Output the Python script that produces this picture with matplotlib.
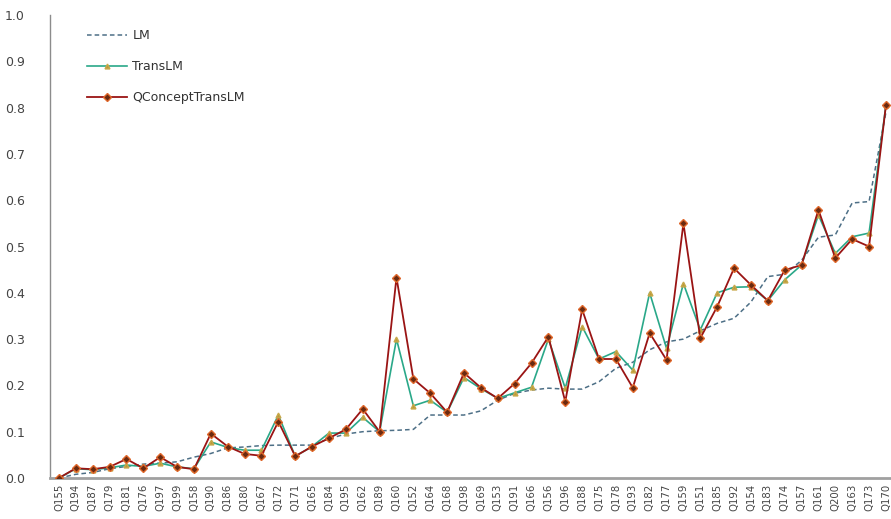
import matplotlib
matplotlib.use("Agg")
import matplotlib.pyplot as plt

queries = ["Q155", "Q194", "Q187", "Q179", "Q181", "Q176", "Q197", "Q199", "Q158", "Q190",
           "Q186", "Q180", "Q167", "Q172", "Q171", "Q165", "Q184", "Q195", "Q162", "Q189",
           "Q160", "Q152", "Q164", "Q168", "Q198", "Q169", "Q153", "Q191", "Q166", "Q156",
           "Q196", "Q188", "Q175", "Q178", "Q193", "Q182", "Q177", "Q159", "Q151", "Q185",
           "Q192", "Q154", "Q183", "Q174", "Q157", "Q161", "Q200", "Q163", "Q173", "Q170"]

lm = [0.000, 0.008, 0.012, 0.020, 0.025, 0.030, 0.032, 0.035, 0.045, 0.053,
      0.065, 0.067, 0.070, 0.071, 0.071, 0.071, 0.085, 0.095, 0.100, 0.102,
      0.103, 0.105, 0.136, 0.136, 0.136, 0.145, 0.168, 0.183, 0.190, 0.194,
      0.192, 0.192, 0.208, 0.237, 0.250, 0.277, 0.294, 0.300, 0.318, 0.334,
      0.345, 0.380, 0.435, 0.440, 0.470, 0.520, 0.525, 0.594, 0.597, 0.790]

trans_lm = [0.000, 0.020, 0.018, 0.022, 0.028, 0.025, 0.032, 0.024, 0.020, 0.078,
            0.066, 0.060, 0.060, 0.136, 0.047, 0.068, 0.097, 0.097, 0.131, 0.100,
            0.300, 0.156, 0.168, 0.142, 0.217, 0.193, 0.172, 0.184, 0.196, 0.300,
            0.194, 0.327, 0.257, 0.273, 0.233, 0.400, 0.280, 0.420, 0.320, 0.400,
            0.412, 0.413, 0.383, 0.428, 0.460, 0.568, 0.485, 0.521, 0.529, 0.805]

qconcept = [0.000, 0.021, 0.019, 0.024, 0.041, 0.021, 0.045, 0.024, 0.019, 0.096,
            0.068, 0.052, 0.048, 0.122, 0.047, 0.068, 0.086, 0.105, 0.149, 0.100,
            0.433, 0.214, 0.183, 0.142, 0.227, 0.195, 0.172, 0.204, 0.248, 0.305,
            0.165, 0.364, 0.257, 0.257, 0.195, 0.313, 0.255, 0.550, 0.302, 0.370,
            0.453, 0.417, 0.383, 0.449, 0.460, 0.579, 0.475, 0.516, 0.500, 0.805]

yticks = [0.0, 0.1, 0.2, 0.3, 0.4, 0.5, 0.6, 0.7, 0.8, 0.9, 1.0]

fig = plt.figure(figsize=(8.91, 5.19), dpi=100)
ax = fig.add_axes([50 / 891, 41 / 519, 1 - 50 / 891, 463 / 519])

x = list(range(len(queries)))

ax.plot(x, lm, color="#4d6f86", lw=1.1, ls=(0, (3, 2)), label="LM", zorder=2)
ax.plot(x, trans_lm, color="#2aa889", lw=1.2, marker="^", ms=3.5,
        mfc="#b99a3a", mec="#c8a84a", label="TransLM", zorder=3)
ax.plot(x, qconcept, color="#9a1414", lw=1.3, marker="D", ms=3.6,
        mfc="#6a2a10", mec="#e0672a", mew=1.0, label="QConceptTransLM", zorder=4)

ax.set_xlim(-0.53, 49.3)
ax.set_ylim(0, 1.0)
ax.set_yticks(yticks)
ax.set_yticklabels([f"{v:.1f}" for v in yticks], fontsize=9, color="#444444")
ax.set_xticks(x)
ax.set_xticklabels(queries, rotation=90, fontsize=7.3, color="#444444")
ax.tick_params(axis="x", length=0, pad=4)
ax.tick_params(axis="y", length=0, pad=18)

for side in ("top", "right"):
    ax.spines[side].set_visible(False)
ax.spines["left"].set_color("#8c8c8c")
ax.spines["left"].set_linewidth(1.0)
ax.spines["bottom"].set_color("#a0a0a0")
ax.spines["bottom"].set_linewidth(2.0)

ax.legend(loc="upper left", bbox_to_anchor=(0.031, 0.994), frameon=False,
          fontsize=9, handlelength=3.2, handletextpad=0.4,
          labelspacing=1.44, labelcolor="#333333")

fig.savefig("out.png", dpi=100, facecolor="white")
